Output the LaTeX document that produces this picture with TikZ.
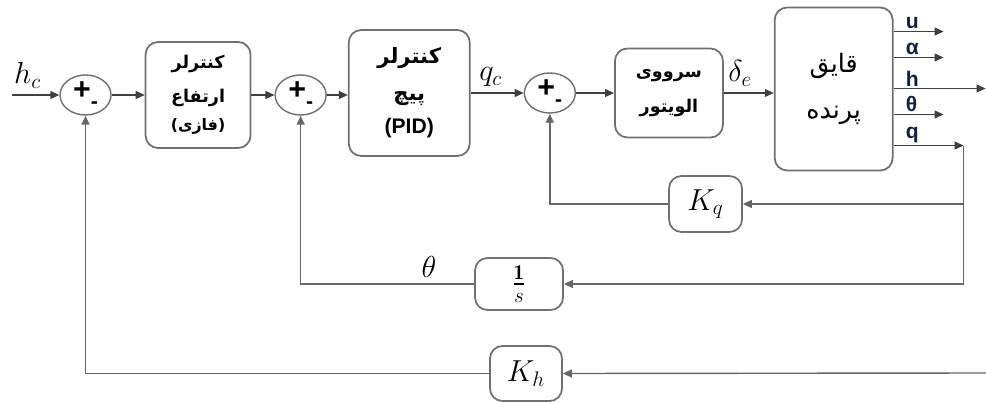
\documentclass[tikz,border=0pt]{standalone}
\usepackage{amsmath}
\usepackage{fontspec}
\usetikzlibrary{shapes.geometric, arrows.meta, positioning, calc}
\TeXXeTstate=1
\newfontfamily\farsifont[Script=Arabic]{DejaVu Sans}
\newfontfamily\labelfont{Liberation Sans}
\definecolor{boxgray}{HTML}{707070}
\definecolor{wiregray}{HTML}{3F3F3F}
\definecolor{fbgray}{HTML}{666666}
\definecolor{labelnavy}{HTML}{10204A}
\newcommand{\fa}[1]{{\farsifont\beginR #1\endR}}
\newcommand{\sumsigns}{{\labelfont\bfseries\LARGE +\raisebox{-0.6ex}{\large -}}\hspace{0.22cm}}

\begin{document}
\begin{tikzpicture}[
        block/.style = {rectangle, draw=boxgray, line width=1pt, rounded corners=2.5mm, align=center, inner sep=0pt},
        sum/.style = {ellipse, draw=boxgray, line width=0.8pt, minimum width=1.02cm, minimum height=0.8cm, inner sep=0pt},
        line/.style = {draw=wiregray, line width=0.7pt, -{Triangle[length=1.8mm, width=1.6mm]}},
        fb_line/.style = {draw=fbgray, line width=0.8pt, -{Triangle[length=1.8mm, width=1.6mm]}},
        fb_plain/.style = {draw=fbgray, line width=0.8pt},
        out_label/.style = {font=\labelfont\bfseries\large, text=labelnavy, anchor=south west, inner sep=1pt, pos=0, xshift=0.2cm},
        sig/.style = {font=\LARGE}
    ]
    \useasboundingbox (0,0) rectangle (19.72,8.02);

    % Nodes
    \node [sum] (sum_h) at (1.71,6.12) {\sumsigns};
    \node [block, right=0.66cm of sum_h, minimum width=2.1cm, minimum height=2.12cm] (alt_ctrl)
        {\fa{\bfseries کنترلر}\\[7pt] \fa{\bfseries ارتفاع}\\[4pt] {\small\fa{\bfseries (فازی)}}};
    \node [sum, right=0.46cm of alt_ctrl] (sum_theta) {\sumsigns};
    \node [block, right=0.42cm of sum_theta, minimum width=2.42cm, minimum height=2.52cm, yshift=0.04cm] (pitch_ctrl)
        {\large\fa{\bfseries کنترلر}\\[9pt] \large\fa{\bfseries پیچ}\\[7pt] {\labelfont\bfseries\large (PID)}};
    \node [sum, right=1.06cm of pitch_ctrl] (sum_q) {\sumsigns};
    \node [block, right=0.76cm of sum_q, minimum width=2.16cm, minimum height=1.78cm] (servo)
        {\fa{\bfseries سرووی}\\[8pt] \fa{\bfseries الویتور}};
    \node [block, right=1.0cm of servo, minimum width=2.36cm, minimum height=3.26cm, yshift=0.08cm] (plane)
        {\Large\fa{قایق}\\[14pt] \Large\fa{پرنده}};

    % Feedback blocks
    \node [block, minimum width=1.46cm, minimum height=1.12cm, sig] (k_q) at (14.11,3.94) {$K_q$};
    \node [block, minimum width=1.76cm, minimum height=1.04cm, sig] (one_s) at (10.38,2.34) {$\tfrac{\mathbf{1}}{s}$};
    \node [block, minimum width=1.44cm, minimum height=1.1cm, sig] (k_h) at (10.52,0.55) {$K_h$};

    \coordinate (in_h) at (0.24,6.12);
    \coordinate (h_far) at (19.72,0.56);

    % Outputs
    \foreach \name/\dy/\len/\txt in {u/1.15/1.0/u, alpha/0.63/1.0/α, h/0.01/1.84/h, theta/-0.51/1.0/θ, q/-1.13/1.4/q} {
        \coordinate (out_\name) at ($(plane.east)+(\len,\dy)$);
        \path [line] (plane.east |- out_\name) -- node[out_label] {\txt} (out_\name);
    }

    % Edges
    \path [line] (in_h) -- node[pos=0.33, above, sig] {$h_c$} (sum_h.west);
    \path [line] (sum_h) -- (alt_ctrl);
    \path [line] (alt_ctrl) -- (sum_theta);
    \path [line] (sum_theta.east) -- (sum_theta.east -| pitch_ctrl.west);
    \path [line] (pitch_ctrl.east |- sum_q) -- node[pos=0.38, above, sig] {$q_c$} (sum_q.west);
    \path [line] (sum_q) -- (servo);
    \path [line] (servo.east) -- node[pos=0.33, above, sig] {$\delta_e$} (servo.east -| plane.west);

    % Feedback paths
    \path [fb_plain] (out_q) -- (out_q |- one_s.east);
    \path [fb_line] (out_q |- k_q.east) -- (k_q.east);
    \path [fb_line] (out_q |- one_s.east) -- (one_s.east);
    \path [fb_line] (k_q.west) -| (sum_q.south);
    \path [fb_line] (one_s.west) -| node[pos=0.13, above, sig] {$\theta$} (sum_theta.south);
    \path [fb_line] (h_far) -- (k_h.east);
    \path [fb_line] (k_h.west) -| (sum_h.south);

\end{tikzpicture}
\end{document}
